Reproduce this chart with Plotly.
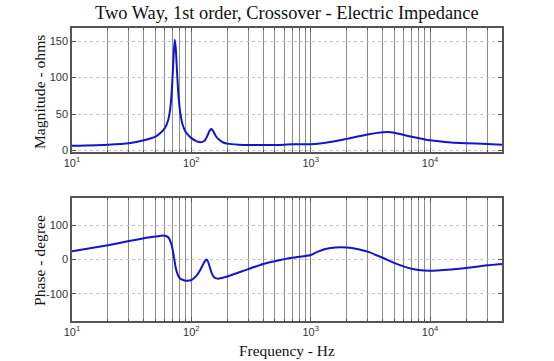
import math
import plotly.graph_objects as go
from plotly.subplots import make_subplots

# ---- data ----
mag_freq = [10, 20, 30, 40, 50, 55, 60, 64, 67, 69, 71, 72.5, 74, 76, 78, 81, 85, 90, 100, 110, 120,
            128, 135, 142, 147, 152, 160, 170, 185, 200, 250, 300, 500, 700, 900, 1000, 1500, 2000,
            3000, 4000, 4500, 5000, 7000, 10000, 15000, 20000, 30000, 40000]
mag_ohms = [6.5, 8, 10, 14, 19, 24, 31, 42, 62, 90, 130, 152, 140, 105, 75, 50, 34, 25, 17, 13, 11.5,
            13, 19, 27, 30, 27, 20, 15, 11, 9.5, 8, 7.5, 7.5, 8.5, 8.5, 8.5, 12, 16,
            22, 25, 25.5, 24.5, 19, 14, 11, 10, 9, 8]

ph_freq = [10, 20, 30, 40, 50, 58, 62, 65, 68, 70, 72, 74, 77, 80, 85, 90, 100, 110, 118, 125, 130,
           134, 137, 142, 148, 155, 165, 180, 200, 300, 400, 500, 700, 900, 1000, 1100, 1300, 1600,
           2000, 2500, 3000, 4000, 5000, 6000, 7000, 8000, 10000, 15000, 20000, 30000, 40000]
ph_deg = [24, 42, 54, 62, 67, 70, 68, 62, 45, 25, 0, -25, -45, -55, -60, -62, -60, -48, -32, -15, -5,
          0, -4, -20, -40, -52, -56, -54, -50, -28, -13, -5, 5, 10, 13, 20, 30, 35,
          35, 30, 23, 5, -10, -20, -27, -31, -33, -29, -25, -17, -13]

x_min, x_max = 10, 40000
x_major = [10, 100, 1000, 10000]
x_major_text = ["10<sup>1</sup>", "10<sup>2</sup>", "10<sup>3</sup>", "10<sup>4</sup>"]
mag_ticks = [0, 50, 100, 150]
mag_tick_text = ["0", "50", "100", "150"]
ph_ticks = [-100, 0, 100]
ph_tick_text = ["-100", "0", "100"]

title_text = "Two Way, 1st order, Crossover - Electric Impedance"
mag_label = "Magnitude - ohms"
ph_label = "Phase - degree"
freq_label = "Frequency - Hz"

# ---- figure ----
W, H = 554, 361
L, R, T, B = 72, 52, 28, 40
plot_w = W - L - R
plot_h = H - T - B
top_dom = [(H - B - 152) / plot_h, 1.0]
bot_dom = [0.0, (H - B - 198) / plot_h]


def py(pix):
    """pixel row -> paper y"""
    return (H - B - pix) / plot_h


def px(pix):
    """pixel column -> paper x"""
    return (pix - L) / plot_w


fig = make_subplots(rows=2, cols=1)

line_style = dict(color="#1414cc", width=2, shape="spline", smoothing=0.5)
fig.add_trace(go.Scatter(x=mag_freq, y=mag_ohms, mode="lines", line=line_style, showlegend=False), row=1, col=1)
fig.add_trace(go.Scatter(x=ph_freq, y=ph_deg, mode="lines", line=line_style, showlegend=False), row=2, col=1)

x_minor = [m * d for d in x_major for m in range(2, 10) if m * d <= x_max]

tick_font = dict(family="Liberation Sans, Arial", size=11, color="#333")
common_x = dict(type="log", range=[math.log10(x_min), math.log10(x_max)],
                tickmode="array", tickvals=x_major, ticktext=x_major_text,
                showgrid=True, gridcolor="#7c7c7c", gridwidth=1,
                minor=dict(tickmode="array", tickvals=x_minor, showgrid=True, gridcolor="#8c8c8c",
                           gridwidth=1, ticks="inside", ticklen=2, tickcolor="#555"),
                showline=True, linecolor="#555", linewidth=1.5, mirror="ticks",
                ticks="inside", ticklen=4, tickcolor="#555", tickfont=tick_font, zeroline=False,
                automargin=False)
common_y = dict(showgrid=True, gridcolor="#c4c4c4", griddash="dot", gridwidth=1,
                showline=True, linecolor="#555", linewidth=1.5, mirror="ticks",
                ticks="inside", ticklen=4, tickcolor="#555", tickfont=tick_font, zeroline=False,
                automargin=False)

fig.update_xaxes(**common_x, domain=[0, 1])
fig.update_yaxes(**common_y)
fig.update_yaxes(domain=top_dom, range=[-2, 168], tickvals=mag_ticks, ticktext=mag_tick_text, row=1, col=1)
fig.update_yaxes(domain=bot_dom, range=[-180, 180], tickvals=ph_ticks, ticktext=ph_tick_text, row=2, col=1)

serif = "Liberation Serif, Times New Roman, serif"
fig.update_layout(
    width=W, height=H,
    margin=dict(l=L, r=R, t=T, b=B),
    paper_bgcolor="white", plot_bgcolor="white",
    showlegend=False,
    annotations=[
        dict(text=title_text, xref="paper", yref="paper", x=0.5, y=py(13),
             xanchor="center", yanchor="middle", showarrow=False,
             font=dict(family=serif, size=18.4, color="#111")),
        dict(text=mag_label, xref="paper", yref="paper", x=px(39), y=py(92),
             textangle=-90, xanchor="center", yanchor="middle",
             showarrow=False, font=dict(family=serif, size=15.6, color="#111")),
        dict(text=ph_label, xref="paper", yref="paper", x=px(39), y=py(261),
             textangle=-90, xanchor="center", yanchor="middle",
             showarrow=False, font=dict(family=serif, size=15.6, color="#111")),
        dict(text=freq_label, xref="paper", yref="paper", x=0.5, y=py(350),
             xanchor="center", yanchor="middle",
             showarrow=False, font=dict(family=serif, size=15.4, color="#111")),
    ],
)

# place the figure at the page's top-left corner (no default body margin), no toolbar
fig.write_html("out.html", config={"displayModeBar": False},
               post_script="document.body.style.margin='0px';")
